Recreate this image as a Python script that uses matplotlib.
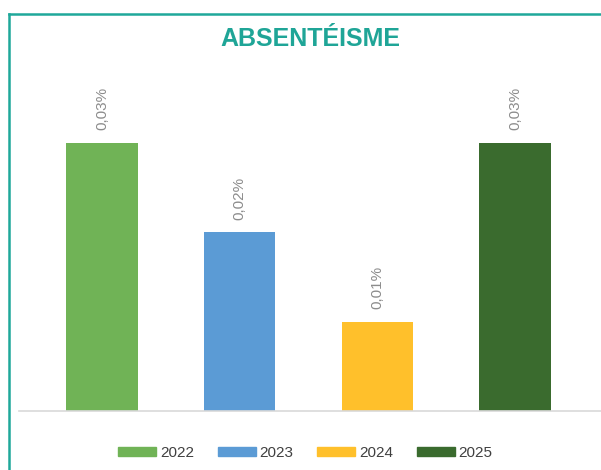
import matplotlib.pyplot as plt
from matplotlib.lines import Line2D
from matplotlib.patches import Patch

years = ["2022", "2023", "2024", "2025"]
values = [0.03, 0.02, 0.01, 0.03]
labels = ["0,03%", "0,02%", "0,01%", "0,03%"]
colors = ["#70B356", "#5B9BD5", "#FFC02B", "#3A6B2E"]

plt.rcParams['font.family'] = ['Liberation Sans', 'DejaVu Sans']

W, H = 601, 470
fig = plt.figure(figsize=(W / 100, H / 100), dpi=100)

# axes placed in pixel terms
left, right, top, bottom = 19, 601, 60, 411
ax = fig.add_axes([left / W, (H - bottom) / H, (right - left) / W, (bottom - top) / H])

x = list(range(len(years)))
ax.bar(x, values, width=0.52, color=colors, zorder=2)
for xi, v, lab in zip(x, values, labels):
    ax.annotate(lab, (xi, v), xytext=(0, 9), textcoords="offset points",
                rotation=90, ha="center", va="bottom", fontsize=11, color="#8C8C8C")

ax.set_xlim(-0.603, 3.625)
ax.set_ylim(0, 0.03 * (bottom - top) / 268)
for s in ["top", "right", "left"]:
    ax.spines[s].set_visible(False)
ax.spines["bottom"].set_color("#D9D9D9")
ax.spines["bottom"].set_linewidth(1.2)
ax.set_xticks([])
ax.set_yticks([])

fig.text(310 / W, 1 - 39 / H, "ABSENTÉISME", ha="center", va="center",
         fontsize=18, fontweight="bold", color="#1FA597")

# teal frame (left and top edges)
teal = "#1FA89A"
fig.add_artist(Line2D([9 / W, 9 / W], [0, 1 - 14 / H], color=teal, lw=1.8, transform=fig.transFigure))
fig.add_artist(Line2D([9 / W, 1], [1 - 14 / H, 1 - 14 / H], color=teal, lw=1.8, transform=fig.transFigure))

handles = [Patch(color=c, label=y) for c, y in zip(colors, years)]
fig.legend(handles=handles, loc="center", bbox_to_anchor=(305.5 / W, 1 - 453 / H), ncol=4,
           frameon=False, fontsize=11, handlelength=2.47, handleheight=0.52,
           handletextpad=0.26, columnspacing=1.56, labelcolor="#404040",
           borderpad=0, borderaxespad=0)

fig.savefig("out.png", dpi=100)
